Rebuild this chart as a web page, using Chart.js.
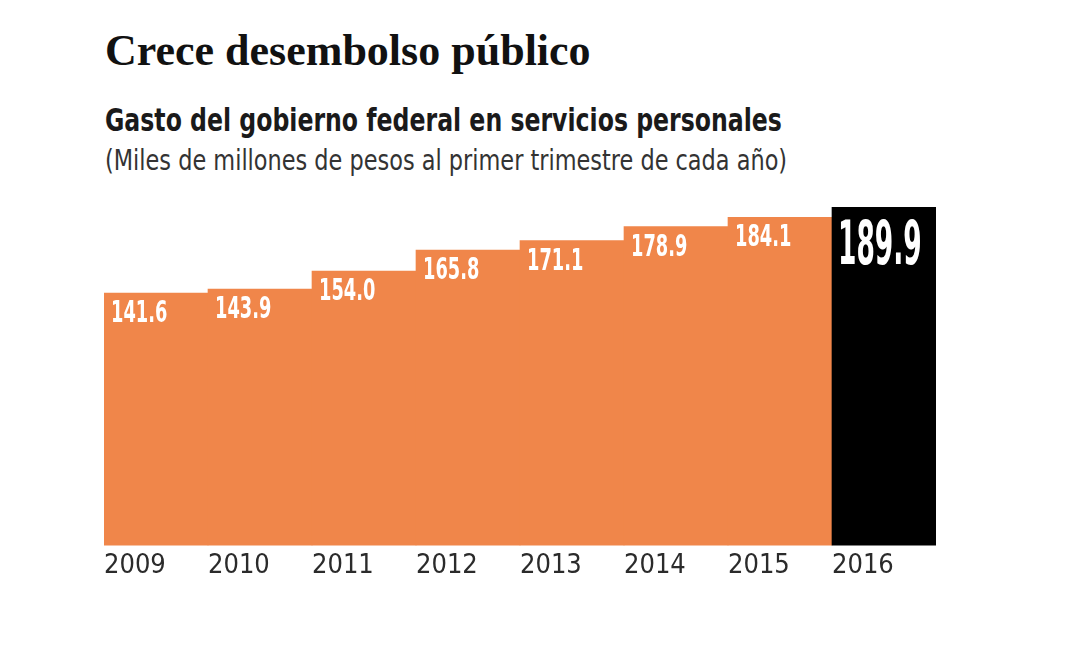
<!DOCTYPE html>
<html>
<head>
<meta charset="utf-8">
<script src="https://cdn.jsdelivr.net/npm/chart.js@4.4.1/dist/chart.umd.min.js"></script>
<style>
  html, body { margin: 0; padding: 0; background: #fff; }
  body { width: 1081px; height: 666px; position: relative; overflow: hidden; }
  .txt { position: absolute; left: 105px; white-space: nowrap; color: #111; transform-origin: 0 0; }
  #titulo { top: 29px; font: bold 44px/44px "Liberation Serif", serif; }
  #sub1 { top: 104px; font: bold 32px/32px "DejaVu Sans Condensed", sans-serif; color: #1a1a1a; transform: scaleX(0.82); }
  #sub2 { top: 147px; font: 28px/28px "DejaVu Sans Condensed", sans-serif; color: #333; transform: scaleX(0.89); }
  #wrap { position: absolute; left: 0; top: 0; width: 1081px; height: 666px; }
</style>
</head>
<body>
<div class="txt" id="titulo">Crece desembolso público</div>
<div class="txt" id="sub1">Gasto del gobierno federal en servicios personales</div>
<div class="txt" id="sub2">(Miles de millones de pesos al primer trimestre de cada año)</div>
<div id="wrap"><canvas id="grafica"></canvas></div>
<script>
const years = ['2009', '2010', '2011', '2012', '2013', '2014', '2015', '2016'];
const gasto = [141.6, 143.9, 154.0, 165.8, 171.1, 178.9, 184.1, 189.9];
const valueLabels = ['141.6', '143.9', '154.0', '165.8', '171.1', '178.9', '184.1', '189.9'];

const naranja = '#F0864A';
const negro = '#000000';
const condensed = '"DejaVu Sans Condensed", sans-serif';

// etiquetas blancas dentro de cada barra
const etiquetas = {
    id: 'etiquetas',
    afterDatasetsDraw(chart) {
        const ctx = chart.ctx;
        const meta = chart.getDatasetMeta(0);
        meta.data.forEach(function(bar, i) {
            const last = i === meta.data.length - 1;
            const left = bar.x - bar.width / 2;
            const size = last ? 60 : 30;
            const sx = last ? 0.49 : 0.66;
            const baseline = bar.y + (last ? 57 : 29);
            ctx.save();
            ctx.fillStyle = '#ffffff';
            ctx.font = 'bold ' + size + 'px ' + condensed;
            ctx.textBaseline = 'alphabetic';
            ctx.textAlign = 'left';
            ctx.translate(left + (last ? 6 : 7), baseline);
            ctx.scale(sx, 1);
            ctx.fillText(valueLabels[i], 0, 0);
            ctx.restore();
        });
    }
};

const grafica = new Chart(document.getElementById('grafica'), {
    type: 'bar',
    data: {
        labels: years,
        datasets: [{
            data: gasto,
            backgroundColor: gasto.map((v, i) => i === gasto.length - 1 ? negro : naranja),
            borderWidth: 0,
            barPercentage: 1.0,
            categoryPercentage: 1.0
        }]
    },
    options: {
        responsive: true,
        maintainAspectRatio: false,
        animation: false,
        layout: {
            padding: { left: 104, right: 145, top: 207, bottom: 80 }
        },
        plugins: {
            legend: { display: false },
            tooltip: { enabled: false }
        },
        scales: {
            x: {
                grid: { display: false, drawTicks: false },
                border: { display: false },
                ticks: {
                    align: 'start',
                    labelOffset: -52,
                    padding: 4,
                    color: '#2b2b2b',
                    font: { family: condensed, size: 27 }
                }
            },
            y: {
                display: false,
                min: 0,
                max: Math.max(...gasto)
            }
        }
    },
    plugins: [etiquetas]
});
</script>
</body>
</html>
